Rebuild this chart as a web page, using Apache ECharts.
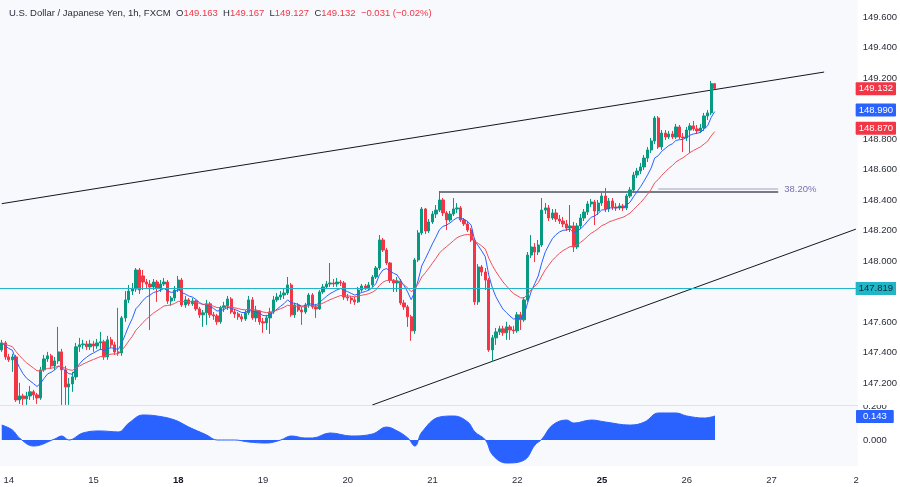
<!DOCTYPE html>
<html><head><meta charset="utf-8">
<script src="https://cdn.jsdelivr.net/npm/echarts@6/dist/echarts.min.js"></script>
<style>html,body{margin:0;padding:0;background:#fff}#c{width:900px;height:487px}</style>
</head><body><div id="c"></div>
<script>
// ---- data (USD/JPY, 1h, FXCM) ----
const opens = [147.417,147.463,147.371,147.352,147.371,147.089,147.115,147.096,147.115,147.142,147.122,147.102,147.286,147.358,147.378,147.312,147.345,147.404,147.286,147.174,147.194,147.240,147.437,147.450,147.456,147.437,147.456,147.443,147.463,147.470,147.371,147.483,147.450,147.404,147.397,147.627,147.745,147.803,147.816,147.941,147.902,147.862,147.849,147.830,147.862,147.823,147.849,147.862,147.738,147.757,147.810,147.875,147.712,147.745,147.719,147.738,147.686,147.647,147.660,147.719,147.647,147.640,147.601,147.693,147.706,147.751,147.666,147.653,147.634,147.620,147.660,147.745,147.627,147.673,147.601,147.594,147.627,147.666,147.745,147.764,147.777,147.790,147.843,147.647,147.712,147.679,147.666,147.712,147.777,147.699,147.686,147.797,147.830,147.849,147.856,147.849,147.862,147.856,147.764,147.757,147.745,147.732,147.810,147.836,147.823,147.843,147.895,147.954,148.138,148.072,147.987,147.875,147.856,147.869,147.725,147.699,147.634,147.542,148.007,148.184,148.341,148.197,148.256,148.308,148.334,148.400,148.315,148.269,148.308,148.341,148.348,148.269,148.243,148.203,148.138,147.732,147.961,147.928,147.875,147.417,147.496,147.535,147.555,147.529,147.568,147.548,147.542,147.647,147.614,147.745,148.039,148.092,148.059,148.105,148.334,148.348,148.282,148.315,148.275,148.262,148.243,148.216,148.230,148.092,148.230,148.282,148.321,148.374,148.387,148.328,148.380,148.426,148.341,148.393,148.354,148.348,148.361,148.348,148.426,148.466,148.564,148.590,148.617,148.675,148.728,148.787,148.938,148.748,148.839,148.813,148.833,148.813,148.879,148.813,148.807,148.859,148.886,148.866,148.853,148.872,148.951,148.971,149.163];
const closes = [147.463,147.371,147.352,147.371,147.089,147.115,147.096,147.115,147.142,147.122,147.102,147.286,147.358,147.378,147.312,147.345,147.404,147.286,147.174,147.194,147.240,147.437,147.450,147.456,147.437,147.456,147.443,147.463,147.470,147.371,147.483,147.450,147.404,147.397,147.627,147.745,147.803,147.816,147.941,147.810,147.862,147.849,147.830,147.862,147.823,147.849,147.862,147.738,147.757,147.810,147.875,147.712,147.745,147.719,147.738,147.686,147.647,147.660,147.719,147.647,147.640,147.601,147.693,147.706,147.751,147.666,147.653,147.634,147.620,147.660,147.745,147.627,147.673,147.601,147.594,147.627,147.666,147.745,147.764,147.777,147.790,147.843,147.647,147.712,147.679,147.666,147.712,147.777,147.699,147.686,147.797,147.830,147.849,147.856,147.849,147.862,147.856,147.764,147.757,147.745,147.732,147.810,147.836,147.823,147.843,147.895,147.954,148.138,148.072,147.987,147.875,147.856,147.869,147.725,147.699,147.634,147.542,148.007,148.184,148.341,148.197,148.256,148.308,148.334,148.400,148.315,148.269,148.308,148.341,148.348,148.269,148.243,148.203,148.138,147.732,147.961,147.928,147.875,147.417,147.496,147.535,147.555,147.529,147.568,147.548,147.542,147.647,147.614,147.745,148.039,148.092,148.059,148.105,148.334,148.348,148.282,148.315,148.275,148.262,148.243,148.216,148.230,148.092,148.230,148.282,148.321,148.374,148.387,148.328,148.380,148.426,148.341,148.393,148.354,148.348,148.361,148.348,148.426,148.466,148.564,148.590,148.617,148.675,148.728,148.787,148.938,148.748,148.839,148.813,148.833,148.813,148.879,148.813,148.807,148.859,148.886,148.866,148.853,148.872,148.951,148.971,149.163,149.132];
const lows = [147.404,147.352,147.338,147.273,147.076,147.063,147.056,147.056,147.089,147.089,147.063,147.089,147.273,147.338,147.292,147.286,147.325,147.056,147.056,147.056,147.142,147.220,147.404,147.424,147.417,147.417,147.404,147.424,147.417,147.352,147.352,147.430,147.384,147.378,147.378,147.601,147.725,147.777,147.797,147.784,147.810,147.816,147.548,147.810,147.732,147.797,147.836,147.719,147.706,147.738,147.797,147.699,147.693,147.706,147.706,147.673,147.627,147.568,147.581,147.627,147.614,147.581,147.588,147.666,147.679,147.653,147.627,147.614,147.601,147.607,147.647,147.614,147.601,147.581,147.529,147.548,147.522,147.653,147.732,147.745,147.751,147.777,147.634,147.627,147.666,147.581,147.653,147.693,147.686,147.627,147.679,147.784,147.816,147.830,147.830,147.830,147.836,147.745,147.738,147.719,147.712,147.725,147.797,147.810,147.810,147.830,147.882,147.941,148.059,147.974,147.856,147.797,147.797,147.712,147.679,147.568,147.476,147.522,147.993,148.170,148.177,148.184,148.243,148.282,148.321,148.295,148.203,148.256,148.295,148.315,148.256,148.230,148.190,148.125,147.712,147.712,147.902,147.810,147.404,147.338,147.450,147.515,147.509,147.483,147.483,147.522,147.529,147.548,147.601,147.732,148.020,147.993,148.039,148.092,148.308,148.262,148.269,148.256,148.243,148.223,148.197,148.190,148.059,148.079,148.210,148.262,148.302,148.354,148.236,148.302,148.361,148.321,148.321,148.334,148.328,148.334,148.328,148.334,148.413,148.446,148.544,148.571,148.597,148.649,148.708,148.767,148.735,148.728,148.793,148.800,148.800,148.800,148.800,148.715,148.787,148.708,148.853,148.833,148.839,148.853,148.925,148.957,149.127];
const highs = [147.483,147.476,147.391,147.391,147.384,147.201,147.129,147.142,147.181,147.155,147.135,147.306,147.384,147.404,147.391,147.371,147.568,147.424,147.312,147.233,147.273,147.463,147.496,147.483,147.476,147.483,147.476,147.489,147.535,147.483,147.509,147.502,147.470,147.693,147.640,147.803,147.843,147.856,147.954,147.954,147.941,147.882,147.875,147.882,147.875,147.875,147.889,147.875,147.771,147.836,147.902,147.889,147.771,147.757,147.757,147.745,147.699,147.679,147.745,147.732,147.666,147.653,147.706,147.732,147.771,147.764,147.686,147.666,147.653,147.679,147.771,147.764,147.706,147.679,147.627,147.647,147.693,147.771,147.790,147.803,147.816,147.895,147.856,147.725,147.725,147.699,147.725,147.790,147.790,147.719,147.810,147.849,147.869,147.987,147.882,147.889,147.875,147.869,147.784,147.771,147.764,147.830,147.849,147.849,147.862,147.908,147.967,148.170,148.151,148.085,147.993,147.882,147.895,147.882,147.745,147.712,147.647,148.020,148.203,148.354,148.348,148.275,148.328,148.367,148.459,148.413,148.328,148.328,148.413,148.380,148.361,148.282,148.262,148.216,148.151,147.980,147.974,147.954,147.889,147.515,147.561,147.575,147.575,147.601,147.581,147.575,147.666,147.666,147.764,148.059,148.170,148.118,148.138,148.413,148.380,148.367,148.341,148.341,148.302,148.289,148.269,148.367,148.256,148.249,148.308,148.341,148.393,148.407,148.400,148.400,148.446,148.479,148.413,148.413,148.380,148.380,148.374,148.440,148.485,148.584,148.610,148.643,148.695,148.748,148.807,148.951,148.951,148.859,148.859,148.853,148.853,148.899,148.892,148.839,148.879,148.905,148.918,148.892,148.899,148.971,148.990,149.181,149.167];

// oscillator (lower pane), read at these bar indices
const oscIdx = [0,3,5,9,15,17,19,23,28,33,36,40,44,49,53,58,61,66,70,75,79,82,86,88,93,99,105,109,112,115,117,119,124,128,132,134,137,139,143,148,151,153,156,160,162,167,171,178,182,186,191,194,199,202];
const oscVal = [0.089,0.060,0.012,-0.036,0.006,0.024,0.000,0.042,0.054,0.048,0.101,0.149,0.143,0.119,0.077,0.030,0.000,0.000,-0.012,-0.018,0.000,0.024,0.012,0.012,0.042,0.024,0.036,0.077,0.054,0.012,-0.036,0.048,0.137,0.143,0.107,0.048,0.000,-0.089,-0.137,-0.119,-0.030,0.006,0.089,0.119,0.101,0.119,0.107,0.089,0.107,0.161,0.161,0.143,0.131,0.143];

// time axis
const barCount = 243;
const dayStartIdx = [2,26,50,74,98,122,146,170,194,218,242];
const dayLabels = ['14','15','18','19','20','21','22','25','26','27','2'];
const boldDays = ['18','25'];

// price axis ticks (147.800 and 149.000 are hidden behind tags in the reference)
const priceTicks = [147.2,147.4,147.6,148.0,148.2,148.4,148.6,148.8,149.2,149.4,149.6];
const oscTicks = [0, 0.2];

// drawings
const upperTrend = [[0,148.376],[233,149.239]];
const lowerTrend = [[105,147.056],[242,148.209]];
const resistance = [[124,148.452],[220,148.452]];
const fibLevel = [[186,148.472],[220,148.472]];
const fibText = '38.20%';
const hLineValue = 147.819;

// last values shown in tags
const lastBlueMA = 148.990;
const lastRedMA = 148.870;
const lastOsc = 0.143;
const headerName = 'U.S. Dollar / Japanese Yen, 1h, FXCM';
const headerChange = '\u22120.031 (\u22120.02%)';

// ---- build ----
const UP = '#089981', DOWN = '#f23645', BLUE = '#2962ff', TEAL = '#22b5c8';
function ema(arr, n){ const k = 2/(n+1); let p = arr[0]; return arr.map(v => (p = v*k + p*(1-k), +p.toFixed(4))); }
const ema9 = ema(closes, 9), ema21 = ema(closes, 21);
const cats = Array.from({length: barCount}, (_, i) => String(i));
const candles = opens.map((o, i) => [o, closes[i], lows[i], highs[i]]);
const last = candles.length - 1;
const FONT = 'Liberation Sans';
const HIDDEN = {color: 'rgba(0,0,0,0)', width: 1, type: 'solid'};

function tag(v, bg, txt, fg, pad){
  return {yAxis: v, lineStyle: HIDDEN,
    label: {show: true, position: 'end', distance: -2, formatter: txt, backgroundColor: bg, color: fg || '#fff',
      padding: pad || [2, 3, 1, 3], fontSize: 9.5, fontFamily: FONT, borderRadius: 1}};
}

const chart = echarts.init(document.getElementById('c'), null, {renderer: 'canvas'});
const G0 = {left: 0, top: 0, width: 858, height: 405, show: true, backgroundColor: '#f8f9fd', borderWidth: 0};
const G1 = {left: 0, top: 406, width: 858, height: 60, show: true, backgroundColor: '#f8f9fd', borderWidth: 0};

chart.setOption({
  animation: false,
  backgroundColor: '#ffffff',
  textStyle: {fontFamily: FONT},
  title: {
    left: 4, top: 3,
    text: '{n|' + headerName + '}  {n|O}{r|' + opens[last].toFixed(3) + '}  {n|H}{r|' + highs[last].toFixed(3) +
          '}  {n|L}{r|' + lows[last].toFixed(3) + '}  {n|C}{r|' + closes[last].toFixed(3) + '}  {r|' + headerChange + '}',
    textStyle: {fontWeight: 'normal', fontSize: 9.5, rich: {
      n: {fontSize: 9.5, color: '#2a2e39', fontFamily: FONT, fontWeight: 'normal'},
      r: {fontSize: 9.5, color: DOWN, fontFamily: FONT, fontWeight: 'normal'}
    }}
  },
  grid: [G0, G1],
  graphic: [
    {type: 'line', shape: {x1: 0, y1: 405.5, x2: 858, y2: 405.5}, style: {stroke: '#e0e3eb', lineWidth: 1}, silent: true},
    // the price pane overlaps the top half of the indicator's top tick label, as in the reference
    {type: 'rect', shape: {x: 859, y: 398, width: 41, height: 7}, style: {fill: '#ffffff'}, silent: true, z: 100}
  ],
  xAxis: [
    {type: 'category', gridIndex: 0, data: cats, boundaryGap: true, show: false},
    {type: 'category', gridIndex: 1, data: cats, boundaryGap: true,
      axisLine: {show: false}, axisTick: {show: false}, splitLine: {show: false},
      axisLabel: {
        margin: 9, fontSize: 9.5, color: '#2a2e39', fontFamily: FONT,
        interval: (i) => dayStartIdx.indexOf(i) >= 0,
        formatter: (v, i) => { const k = dayStartIdx.indexOf(+v); if (k < 0) return ''; const t = dayLabels[k]; return boldDays.indexOf(t) >= 0 ? '{b|' + t + '}' : t; },
        rich: {b: {fontWeight: 'bold', fontSize: 9.5, color: '#131722', fontFamily: FONT}}
      }}
  ],
  yAxis: [
    {type: 'value', gridIndex: 0, position: 'right', min: 147.0557, max: 149.7115, scale: true,
      axisLine: {show: false}, axisTick: {show: false}, splitLine: {show: false},
      axisLabel: {customValues: priceTicks, margin: 5, fontSize: 9.5, color: '#2a2e39', fontFamily: FONT, formatter: v => v.toFixed(3)}},
    {type: 'value', gridIndex: 1, position: 'right', min: -0.1549, max: 0.2026,
      axisLine: {show: false}, axisTick: {show: false}, splitLine: {show: false},
      axisLabel: {customValues: oscTicks, margin: 5, fontSize: 9.5, color: '#2a2e39', fontFamily: FONT, formatter: v => v.toFixed(3)}}
  ],
  series: [
    {type: 'line', name: 'upperTrend', xAxisIndex: 0, yAxisIndex: 0, data: upperTrend, symbol: 'none', silent: true,
      lineStyle: {color: '#131722', width: 1}, z: 3},
    {type: 'line', name: 'lowerTrend', xAxisIndex: 0, yAxisIndex: 0, data: lowerTrend, symbol: 'none', silent: true,
      lineStyle: {color: '#131722', width: 1}, z: 3},
    {type: 'line', name: 'resistance', xAxisIndex: 0, yAxisIndex: 0, data: resistance, symbol: 'none', silent: true,
      lineStyle: {color: '#787b86', width: 2}, z: 3},
    {type: 'line', name: 'fib', xAxisIndex: 0, yAxisIndex: 0, data: fibLevel, symbol: 'none', silent: true,
      lineStyle: {color: '#a39fc4', width: 1}, z: 3,
      endLabel: {show: true, formatter: fibText, color: '#7b6fb0', fontSize: 9.5, fontFamily: FONT, distance: 6}},
    {type: 'candlestick', name: 'USDJPY', xAxisIndex: 0, yAxisIndex: 0, data: candles, barWidth: 2.8, z: 4,
      itemStyle: {color: UP, color0: DOWN, borderColor: UP, borderColor0: DOWN, borderWidth: 1},
      markLine: {symbol: ['none', 'none'], silent: true, animation: false, z: 10,
        data: [
          {yAxis: hLineValue, lineStyle: {color: TEAL, width: 1, type: 'solid'},
            label: {show: true, position: 'end', distance: -2, formatter: hLineValue.toFixed(3), backgroundColor: TEAL, color: '#0d2a30',
              padding: [2, 3, 1, 3], fontSize: 9.5, fontFamily: FONT}},
          tag(closes[last], DOWN, closes[last].toFixed(3)),
          tag(lastBlueMA, BLUE, lastBlueMA.toFixed(3)),
          tag(lastRedMA, DOWN, lastRedMA.toFixed(3))
        ]}},
    {type: 'line', name: 'EMA9', xAxisIndex: 0, yAxisIndex: 0, data: ema9, symbol: 'none', silent: true,
      lineStyle: {color: BLUE, width: 1}, z: 5},
    {type: 'line', name: 'EMA21', xAxisIndex: 0, yAxisIndex: 0, data: ema21, symbol: 'none', silent: true,
      lineStyle: {color: '#f0505c', width: 1}, z: 5},
    {type: 'line', name: 'osc', xAxisIndex: 1, yAxisIndex: 1, data: oscIdx.map((i, k) => [i, oscVal[k]]),
      symbol: 'none', smooth: 0.4, silent: true, lineStyle: {color: BLUE, width: 1}, areaStyle: {color: BLUE, opacity: 1},
      markLine: {symbol: ['none', 'none'], silent: true, animation: false, z: 10,
        data: [tag(lastOsc, BLUE, lastOsc.toFixed(3), '#fff', [2, 7, 1, 7])]}}
  ]
});
</script>
</body></html>
